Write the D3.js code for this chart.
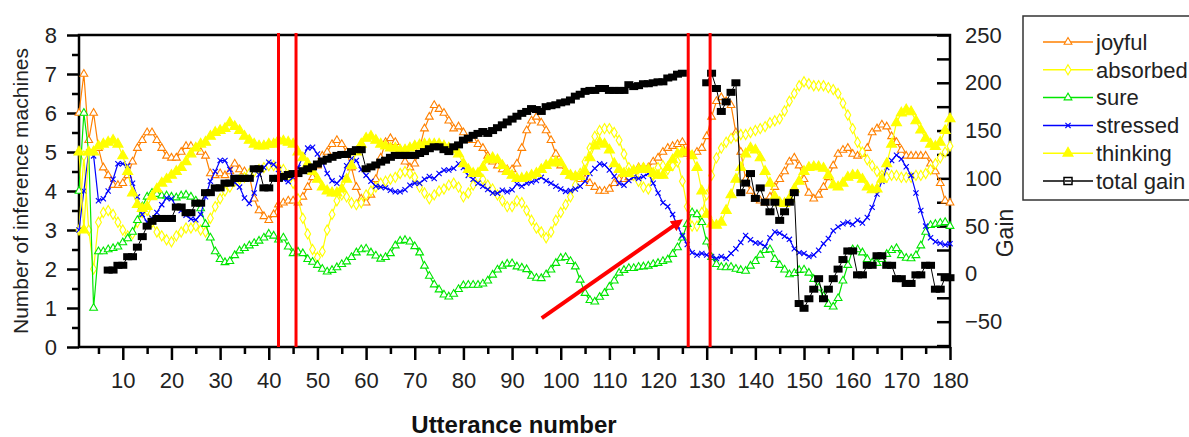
<!DOCTYPE html>
<html>
<head>
<meta charset="utf-8">
<script src="https://cdn.jsdelivr.net/npm/d3@7"></script>
<style>
  body { margin: 0; background: #fff; }
  svg { display: block; font-family: "Liberation Sans", Arial, sans-serif; }
</style>
</head>
<body>
<svg id="chart" width="1189" height="437"></svg>
<script>
'use strict';
// utterance 1..180, values
const joyful = [6.0,7.0,5.3,6.0,5.1,4.6,4.4,4.15,4.15,4.2,
  4.4,4.75,5.1,5.3,5.5,5.5,5.3,5.1,4.9,4.85,
  4.85,5.0,5.15,5.15,5.1,5.0,4.9,4.45,4.4,4.45,
  4.4,4.5,4.7,4.55,4.5,4.4,3.8,3.5,3.35,3.25,
  3.4,3.65,3.7,3.75,3.75,3.7,3.85,4.1,4.35,4.65,
  4.9,5.0,5.2,5.3,5.2,5.0,4.6,4.1,3.8,3.7,
  3.9,4.3,4.85,5.25,5.35,5.25,5.0,4.75,4.6,4.7,
  5.1,5.6,5.9,6.2,6.1,6.0,5.8,5.6,5.65,5.5,
  5.3,5.3,5.2,5.1,4.9,4.75,4.65,4.55,4.55,4.55,
  4.7,5.1,5.55,5.8,5.9,5.75,5.55,5.3,4.95,4.65,
  4.5,4.4,4.35,4.3,4.3,4.2,4.1,4.0,4.0,4.05,
  4.2,4.3,4.3,4.35,4.5,4.6,4.6,4.6,4.75,4.85,
  5.0,5.1,5.15,5.2,5.25,4.95,4.9,5.0,5.1,5.4,
  5.9,6.3,6.4,6.3,6.2,5.5,5.0,4.3,4.0,3.8,
  3.75,3.7,3.85,4.1,4.3,4.5,4.75,4.85,4.65,4.3,
  3.95,3.8,3.9,4.1,4.35,4.65,4.95,5.05,5.1,4.95,
  4.9,4.95,5.1,5.5,5.6,5.7,5.65,5.4,5.25,5.05,
  4.9,4.9,4.9,4.9,4.9,4.7,4.5,4.2,3.75,3.7];

const absorbed = [3.0,4.9,3.0,2.0,3.2,3.45,3.5,3.4,3.2,3.0,
  2.85,2.9,3.2,3.45,3.5,3.2,2.95,2.85,2.75,2.7,
  2.85,2.95,3.05,3.05,3.1,3.0,2.95,3.3,3.6,3.8,
  4.0,4.1,4.25,4.3,4.35,4.45,4.5,4.55,4.6,4.65,
  4.65,4.6,4.55,4.4,4.2,3.8,3.3,2.9,2.5,2.3,
  2.45,3.0,3.4,3.75,3.9,3.85,3.7,3.65,3.7,3.9,
  4.0,4.1,4.2,4.25,4.3,4.35,4.45,4.5,4.45,4.35,
  4.1,3.95,3.8,3.9,4.0,4.05,4.15,4.2,4.1,3.85,
  3.95,4.15,4.35,4.3,4.15,4.05,3.9,3.75,3.6,3.6,
  3.75,3.7,3.5,3.25,3.05,2.95,2.8,2.95,3.25,3.45,
  3.65,3.85,4.15,4.45,4.75,5.1,5.4,5.55,5.6,5.6,
  5.5,5.3,4.95,4.6,4.4,4.25,4.1,4.05,4.4,4.6,
  4.65,4.55,4.65,4.75,4.25,3.6,3.1,3.1,3.45,3.9,
  4.4,4.85,5.1,5.25,5.35,5.4,5.45,5.45,5.5,5.55,
  5.6,5.65,5.75,5.8,5.85,6.05,6.3,6.5,6.7,6.8,
  6.75,6.7,6.7,6.7,6.65,6.6,6.5,6.25,5.95,5.6,
  5.25,5.0,4.8,4.65,4.5,4.4,4.35,4.4,4.4,4.35,
  4.35,4.35,4.4,4.4,4.45,4.55,4.7,4.85,5.0,5.15];

const sure = [4.0,6.0,5.0,1.0,2.45,2.45,2.5,2.53,2.57,2.68,
  2.78,2.95,3.25,3.6,3.85,3.95,3.92,3.88,3.88,3.85,
  3.83,3.88,3.9,3.85,3.75,3.55,3.15,2.8,2.45,2.25,
  2.17,2.2,2.35,2.47,2.53,2.6,2.66,2.72,2.8,2.9,
  2.85,2.75,2.8,2.57,2.4,2.44,2.4,2.25,2.18,2.1,
  2.0,1.93,1.97,2.04,2.12,2.19,2.3,2.42,2.5,2.52,
  2.42,2.34,2.26,2.3,2.4,2.6,2.72,2.74,2.7,2.58,
  2.42,2.08,1.82,1.6,1.47,1.34,1.29,1.36,1.48,1.58,
  1.59,1.59,1.59,1.62,1.7,1.85,1.98,2.08,2.13,2.14,
  2.06,2.03,1.99,1.82,1.77,1.76,1.86,1.98,2.15,2.28,
  2.3,2.2,2.06,1.72,1.38,1.2,1.16,1.28,1.38,1.54,
  1.7,1.9,1.97,2.02,2.02,2.05,2.06,2.08,2.12,2.15,
  2.2,2.24,2.38,2.55,2.8,3.15,3.45,3.4,3.2,2.7,
  2.3,2.12,2.05,2.04,2.05,2.0,1.97,1.95,2.08,2.2,
  2.36,2.48,2.5,2.25,2.1,1.98,1.86,1.89,1.97,1.98,
  1.9,1.74,1.52,1.3,1.1,1.03,1.25,1.7,2.1,2.5,
  2.5,2.42,2.25,2.16,2.15,2.25,2.38,2.48,2.53,2.35,
  2.28,2.27,2.35,2.6,2.95,3.12,3.15,3.18,3.2,3.1];

const stressed = [3.0,4.0,5.0,4.9,3.75,3.8,4.0,4.3,4.7,4.7,
  4.65,4.2,3.85,3.4,3.2,3.3,3.45,3.65,3.82,3.8,
  3.6,3.5,3.38,3.28,3.26,3.4,3.85,4.25,4.5,4.78,
  4.78,4.55,4.22,4.1,3.82,3.68,3.95,4.42,4.6,4.74,
  4.68,4.55,4.3,4.24,4.35,4.6,4.88,5.1,5.12,4.95,
  4.75,4.45,4.26,4.2,4.33,4.65,4.83,4.78,4.55,4.4,
  4.25,4.12,4.1,4.08,4.02,3.98,3.98,4.03,4.15,4.2,
  4.2,4.3,4.37,4.32,4.45,4.53,4.54,4.58,4.7,4.6,
  4.4,4.3,4.2,4.12,4.04,3.95,3.94,4.02,3.98,4.03,
  4.18,4.12,4.2,4.23,4.27,4.35,4.26,4.2,4.12,4.05,
  3.99,4.01,4.05,4.12,4.25,4.45,4.58,4.7,4.67,4.54,
  4.38,4.2,4.15,4.27,4.36,4.32,4.37,4.45,4.2,3.95,
  3.7,3.6,3.4,3.1,2.85,2.63,2.42,2.36,2.4,2.36,
  2.32,2.27,2.32,2.27,2.4,2.52,2.68,2.86,2.75,2.67,
  2.66,2.58,2.8,2.95,2.92,2.84,2.76,2.52,2.42,2.4,
  2.32,2.36,2.48,2.65,2.78,2.98,3.08,3.16,3.2,3.14,
  3.25,3.18,3.32,3.58,3.92,4.25,4.6,4.78,4.92,4.82,
  4.62,4.4,3.95,3.5,3.1,2.8,2.7,2.66,2.62,2.65];

const thinking = [5.0,3.0,5.0,5.0,5.15,5.2,5.25,5.3,5.2,4.9,
  4.5,3.95,3.65,3.55,3.6,3.85,4.05,4.2,4.3,4.4,
  4.5,4.6,4.75,4.95,5.1,5.2,5.25,5.4,5.5,5.55,
  5.6,5.75,5.65,5.55,5.4,5.3,5.2,5.15,5.15,5.2,
  5.2,5.3,5.28,5.25,5.2,5.0,4.85,4.7,4.5,4.3,
  4.1,4.0,3.95,3.95,4.05,4.3,4.65,5.0,5.2,5.35,
  5.4,5.3,5.2,5.15,5.1,5.1,5.05,5.05,5.1,5.15,
  5.18,5.2,5.2,5.2,5.2,5.15,5.1,5.05,4.95,4.7,
  4.55,4.45,4.45,4.6,4.8,4.85,4.8,4.65,4.5,4.4,
  4.32,4.32,4.35,4.4,4.45,4.55,4.65,4.72,4.75,4.72,
  4.5,4.4,4.37,4.37,4.5,4.85,5.15,5.25,5.2,5.05,
  4.7,4.55,4.45,4.45,4.52,4.55,4.58,4.55,4.45,4.4,
  4.4,4.6,4.8,4.95,5.0,5.0,4.9,4.6,4.0,3.4,
  3.15,3.12,3.2,3.5,3.9,4.3,4.6,4.95,5.1,5.05,
  4.85,4.5,4.2,3.85,3.7,3.68,3.8,4.05,4.25,4.5,
  4.6,4.62,4.62,4.58,4.4,4.15,4.1,4.2,4.35,4.4,
  4.4,4.3,4.1,4.03,4.05,4.3,4.7,5.2,5.75,6.0,
  6.08,6.03,5.8,5.56,5.35,5.2,5.14,5.25,5.55,5.85];

// right axis, null = no point
const totalGain = [null,null,null,null,null,null,4,4,9,9,
  18,18,28,39,50,55,58,58,58,58,
  70,70,64,64,74,74,85,85,90,90,
  95,95,100,100,100,100,110,110,90,90,
  100,100,102,104,105,105,108,110,112,115,
  118,120,122,124,125,125,128,130,130,110,
  112,114,117,119,122,124,124,124,124,124,
  126,128,131,133,133,130,128,133,135,140,
  142,145,147,149,147,150,153,156,159,162,
  165,168,170,173,172,170,175,176,177,179,
  180,182,186,188,191,192,192,194,194,192,
  192,192,192,198,196,197,199,199,200,201,
  201,205,206,209,210,null,null,null,null,200,
  210,194,170,180,190,200,85,95,105,79,
  90,75,65,75,56,65,75,85,-31,-36,
  -26,-16,-5,-26,-16,-5,5,15,24,24,
  -1,-1,9,9,19,19,9,9,-5,-5,
  -10,-10,-1,-1,9,9,-16,-16,-4,-4];

const markerLines = [42, 45.6, 126.2, 130.7];
const arrowFrom = [96.1, 0.74];
const arrowTo = [123.7, 3.15];

const xTicks = d3.range(10, 181, 10);
const leftTicks = d3.range(0, 9, 1);
const rightTicks = d3.range(-50, 251, 50);

const svg = d3.select("#chart");
const x = d3.scaleLinear().domain([1, 180]).range([79, 950]);
const y = d3.scaleLinear().domain([0, 8]).range([347, 35]);
const yGain = d3.scaleLinear().domain([-76.5, 250]).range([347, 35]);

function styleAxis(g) {
  g.select(".domain").remove();
  g.selectAll(".tick line").attr("stroke", "#000").attr("stroke-width", 2.5);
  g.selectAll(".tick text").attr("fill", "#222").style("font-size", "22px")
    .style("font-family", '"Liberation Sans", Arial, sans-serif');
}

// bottom axis
svg.append("g").attr("transform", "translate(0,347)")
  .call(d3.axisBottom(x).tickValues(xTicks).tickSize(13).tickPadding(12))
  .call(styleAxis);
svg.append("g").attr("transform", "translate(0,347)")
  .call(d3.axisBottom(x).tickValues(d3.range(5, 181, 10)).tickSize(7).tickFormat(""))
  .call(styleAxis);

// left axis
svg.append("g").attr("transform", "translate(79,0)")
  .call(d3.axisLeft(y).tickValues(leftTicks).tickSize(12).tickPadding(10))
  .call(styleAxis);
svg.append("g").attr("transform", "translate(79,0)")
  .call(d3.axisLeft(y).tickValues(d3.range(0.5, 8, 1)).tickSize(7).tickFormat(""))
  .call(styleAxis);

// right axis: inward ticks, labels outside
svg.append("g").attr("transform", "translate(950,0)")
  .call(d3.axisRight(yGain).tickValues(d3.range(-75, 251, 25)).tickSize(-13).tickFormat(""))
  .call(styleAxis);
svg.append("g").attr("transform", "translate(950,0)")
  .call(d3.axisRight(yGain).tickValues(rightTicks).tickSize(0).tickPadding(15))
  .call(styleAxis);

svg.append("rect")
  .attr("x", 79).attr("y", 35).attr("width", 871).attr("height", 312)
  .attr("fill", "none").attr("stroke", "#000").attr("stroke-width", 2.5);

// axis titles
svg.append("text").attr("transform", "translate(28,191) rotate(-90)")
  .attr("text-anchor", "middle").attr("fill", "#222").style("font-size", "21px")
  .text("Number of inference machines");
svg.append("text").attr("transform", "translate(1013,233) rotate(-90)")
  .attr("text-anchor", "middle").attr("fill", "#222").style("font-size", "23px")
  .text("Gain");
svg.append("text").attr("x", 514).attr("y", 433)
  .attr("text-anchor", "middle").attr("fill", "#111").style("font-size", "24px")
  .style("font-weight", "bold").text("Utterance number");

const line = d3.line()
  .defined(d => d[1] != null)
  .x(d => x(d[0]));

const tri = d3.symbol().type(d3.symbolTriangle).size(26)();
const dia = d3.symbol().type(d3.symbolDiamond).size(30)();
const cross = "M-2.6,-2.6L2.6,2.6M-2.6,2.6L2.6,-2.6";

const series = [
  { name: "joyful", values: joyful, color: "#ff8000", shape: tri, fill: "#fff" },
  { name: "absorbed", values: absorbed, color: "#ffff00", shape: dia, fill: "#fff" },
  { name: "sure", values: sure, color: "#00e600", shape: tri, fill: "#fff" },
  { name: "stressed", values: stressed, color: "#0000ff", shape: cross, fill: "none" },
  { name: "thinking", values: thinking, color: "#ffff00", shape: d3.symbol().type(d3.symbolTriangle).size(44)(), fill: "#ffff00" }
];

const plot = svg.append("g");
series.forEach(function (s) {
  const pts = s.values.map((v, i) => [i + 1, v]);
  plot.append("path").datum(pts)
    .attr("d", line.y(d => y(d[1])))
    .attr("fill", "none").attr("stroke", s.color).attr("stroke-width", 1.2);
  plot.append("g").selectAll("path").data(pts).enter().append("path")
    .attr("transform", d => "translate(" + x(d[0]) + "," + y(d[1]) + ")")
    .attr("d", s.shape)
    .attr("fill", s.fill).attr("stroke", s.color).attr("stroke-width", 1.1);
});

// total gain on the right scale
const gainPts = totalGain.map((v, i) => [i + 1, v]);
plot.append("path").datum(gainPts)
  .attr("d", line.y(d => yGain(d[1])))
  .attr("fill", "none").attr("stroke", "#000").attr("stroke-width", 1);
plot.append("g").selectAll("rect").data(gainPts.filter(d => d[1] != null)).enter().append("rect")
  .attr("x", d => x(d[0]) - 4.5).attr("y", d => yGain(d[1]) - 3.5)
  .attr("width", 9).attr("height", 7).attr("fill", "#000");

// red markers
svg.append("g").selectAll("line").data(markerLines).enter().append("line")
  .attr("x1", d => x(d)).attr("x2", d => x(d))
  .attr("y1", 33).attr("y2", 347)
  .attr("stroke", "#ff0000").attr("stroke-width", 3);

svg.append("defs").append("marker")
  .attr("id", "head").attr("viewBox", "0 0 10 10")
  .attr("refX", 3).attr("refY", 5)
  .attr("markerWidth", 3).attr("markerHeight", 3)
  .attr("orient", "auto")
  .append("path").attr("d", "M0,0L10,5L0,10z").attr("fill", "#ff0000");
svg.append("line")
  .attr("x1", x(arrowFrom[0])).attr("y1", y(arrowFrom[1]))
  .attr("x2", x(arrowTo[0])).attr("y2", y(arrowTo[1]))
  .attr("stroke", "#ff0000").attr("stroke-width", 4)
  .attr("marker-end", "url(#head)");

// legend
const legend = svg.append("g");
legend.append("rect").attr("x", 1023).attr("y", 16).attr("width", 200).attr("height", 184)
  .attr("fill", "#fff").attr("stroke", "#333").attr("stroke-width", 1.5);
const legendItems = series.map(s => ({ name: s.name, color: s.color, shape: s.shape, fill: s.fill }));
legendItems.push({ name: "total gain", color: "#000", shape: null });
legendItems.forEach(function (d, i) {
  const ly = 42 + i * 27.8;
  legend.append("line").attr("x1", 1043).attr("x2", 1093).attr("y1", ly).attr("y2", ly)
    .attr("stroke", d.color).attr("stroke-width", 1.5);
  if (d.shape) {
    legend.append("path").attr("transform", "translate(1068," + ly + ")").attr("d", d.shape)
      .attr("fill", d.fill).attr("stroke", d.color).attr("stroke-width", 1.1);
  } else {
    legend.append("rect").attr("x", 1064).attr("y", ly - 3.5).attr("width", 8).attr("height", 7)
      .attr("fill", "#fff").attr("stroke", "#000").attr("stroke-width", 1.5);
    legend.append("line").attr("x1", 1065).attr("x2", 1071).attr("y1", ly).attr("y2", ly)
      .attr("stroke", "#000").attr("stroke-width", 1.5);
  }
  legend.append("text").attr("x", 1096).attr("y", ly).attr("dy", "0.35em")
    .attr("fill", "#222").style("font-size", "22px").text(d.name);
});
</script>
</body>
</html>
